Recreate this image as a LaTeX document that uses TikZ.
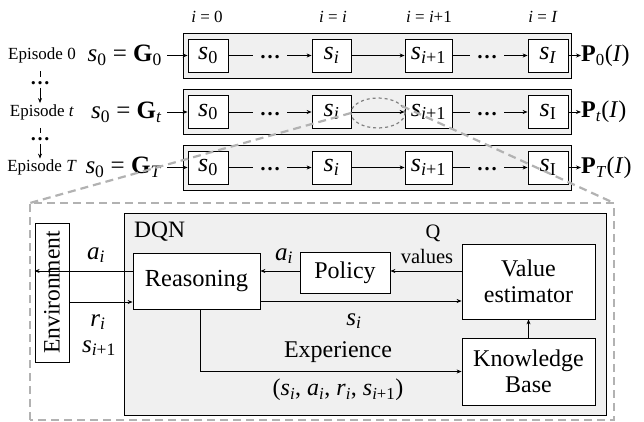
\documentclass[tikz,border=0pt]{standalone}
\usepackage{fontspec}
\setmainfont{Liberation Serif}
\usetikzlibrary{arrows.meta,calc,shapes.geometric}

% italic symbol with a subscript, set in the text font
\newcommand{\isub}[2]{\textit{#1}\textsubscript{#2}}
\newcommand{\fs}[1]{\fontsize{#1}{#1}\selectfont}

\begin{document}
\begin{tikzpicture}[x=1pt,y=-1pt,
  strip/.style={draw, fill=gray!12, line width=0.8pt},
  state/.style={draw, fill=white, line width=0.8pt, minimum height=33pt, inner sep=0pt, font=\fs{26}},
  dotsnode/.style={inner sep=0pt, minimum width=34pt, font=\fs{21}\bfseries},
  arr/.style={-{Stealth[length=5pt,width=4pt]}, line width=0.8pt},
  plain/.style={line width=0.8pt},
  eplabel/.style={inner sep=0pt, font=\fs{17}},
  toplabel/.style={inner sep=0pt, font=\fs{17}},
  panelbox/.style={draw, fill=white, line width=0.8pt, align=center, inner sep=0pt, font=\fs{24}},
  zoomline/.style={draw=gray!60, line width=2.2pt, dash pattern=on 8pt off 5pt},
  lab/.style={inner sep=0pt, font=\fs{25}}
]
\useasboundingbox (0,0) rectangle (644,422);

% index labels above the rows
\node[toplabel] (t0) at (207,17) {\textit{i} = 0};
\node[toplabel] (t1) at (333,17) {\textit{i} = \textit{i}};
\node[toplabel] (t2) at (429,17) {\textit{i} = \textit{i}+1};
\node[toplabel] (t3) at (543,17) {\textit{i} = \textit{I}};

% one row per episode: #1 row name, #2 centre y, #3 episode symbol,
% #4 subscript of the last state, #5 subscript of G and P
\newcommand{\episoderow}[5]{%
  \node[strip, minimum width=388pt, minimum height=45pt, inner sep=0pt] (#1strip) at (377,#2) {};
  \node[state, minimum width=40pt] (#1s0) at (208,#2) {\isub{s}{0}};
  \node[state, minimum width=39pt] (#1si) at (331.5,#2) {\isub{s}{\textit{i}}};
  \node[state, minimum width=47pt] (#1sj) at (428.5,#2) {\isub{s}{\textit{i}+1}};
  \node[state, minimum width=40pt] (#1sI) at (548,#2) {\isub{s}{#4}};
  \node[dotsnode] (#1d1) at (270,#2+2) {…};
  \node[dotsnode] (#1d2) at (487,#2+2) {…};
  \draw[plain] (#1s0.east) -- (#1s0.east -| #1d1.west);
  \draw[arr] (#1si.west -| #1d1.east) -- (#1si.west);
  \draw[arr] (#1si) -- (#1sj);
  \draw[plain] (#1sj.east) -- (#1sj.east -| #1d2.west);
  \draw[arr] (#1sI.west -| #1d2.east) -- (#1sI.west);
  \node[inner sep=0pt, anchor=east, font=\fs{25}] (#1g) at (162,#2) {\isub{s}{0} = \textbf{G}\textsubscript{\textit{#5}}};
  \draw[arr] (#1g.east) ++(5,0) coordinate (#1ga) -- (#1s0.west);
  \node[inner sep=0pt, anchor=west, font=\fs{24}] (#1p) at (581,#2) {\textbf{P}\textsubscript{\textit{#5}}(\textit{I})};
  \draw[arr] (#1sI.east) -- (#1p.west);
  \node[eplabel] (#1ep) at (42,#2) {Episode #3};
}

\episoderow{ra}{55.5}{0}{\textit{I}}{\textup{0}}
\episoderow{rb}{112}{\textit{t}}{I}{t}
\episoderow{rc}{167.5}{\textit{T}}{I}{T}

% episode sequence on the left
\node[inner sep=0pt, font=\fs{20}\bfseries] (e1) at (40,83) {…};
\node[inner sep=0pt, font=\fs{20}\bfseries] (e2) at (40,139) {…};
\draw[plain] ([yshift=-8pt]raep.south -| e1) -- ([yshift=4pt]e1.north);
\draw[arr] ([yshift=-3pt]e1.south) -- ([yshift=1pt]rbep.north -| e1);
\draw[plain] ([yshift=-8pt]rbep.south -| e2) -- ([yshift=4pt]e2.north);
\draw[arr] ([yshift=-3pt]e2.south) -- ([yshift=1pt]rcep.north -| e2);

% detail panel
\node[draw, fill=gray!12, line width=0.8pt, minimum width=482pt, minimum height=202pt, inner sep=0pt] (dqn) at (365,314) {};
\node[inner sep=0pt, font=\fs{23.5}, anchor=west] (dqnlab) at (134,232) {DQN};

\node[panelbox, minimum width=139pt, minimum height=34pt, rotate=90, font=\fs{23.5}] (env) at (52,292.5) {Environment};
\node[panelbox, minimum width=127pt, minimum height=56pt, font=\fs{24.5}] (reason) at (196.5,281) {Reasoning};
\node[panelbox, minimum width=90pt, minimum height=41pt] (policy) at (345,272.5) {Policy};
\node[panelbox, minimum width=133pt, minimum height=75pt] (value) at (528.5,281.5) {Value\\[2pt]estimator};
\node[panelbox, minimum width=133pt, minimum height=67pt] (kb) at (528.5,371.5) {Knowledge\\[2pt]Base};

\draw[arr] ([yshift=10pt]reason.west) -- ([yshift=10pt]reason.west -| env.north);
\draw[arr] ([yshift=-21pt]reason.west -| env.south) -- ([yshift=-21pt]reason.west);
\draw[arr] ([yshift=1.5pt]policy.west) -- ([yshift=1.5pt]policy.west -| reason.east);
\draw[arr] ([yshift=10.5pt]value.west) -- ([yshift=10.5pt]value.west -| policy.east);
\draw[arr] ([yshift=-20pt]reason.east) -- ([yshift=-20pt]reason.east -| value.west);
\draw[arr] ([xshift=3.5pt]reason.south) |- (kb.west);
\draw[arr] (kb.north) -- (value.south);

\node[lab] (la1) at (96,255) {\isub{a}{\textit{i}}};
\node[lab] (lr) at (98,322) {\isub{r}{\textit{i}}};
\node[lab] (ls1) at (99,348) {\isub{s}{\textit{i}+1}};
\node[lab] (la2) at (284,256) {\isub{a}{\textit{i}}};
\node[lab, font=\fs{20.5}] (lq) at (433,233) {Q};
\node[lab, font=\fs{20.5}] (lv) at (427,256) {values};
\node[lab] (lsi) at (354,321) {\isub{s}{\textit{i}}};
\node[lab, font=\fs{24}] (lexp) at (338,352) {Experience};
\node[lab, font=\fs{24}] (ltup) at (338,390) {(\isub{s}{\textit{i}}, \isub{a}{\textit{i}}, \isub{r}{\textit{i}}, \isub{s}{\textit{i}+1})};

% magnified region marker and its guide lines
\node[draw=gray, dashed, line width=1.2pt, ellipse, minimum width=54pt, minimum height=30pt, inner sep=0pt] (focus) at (378,113) {};
\coordinate (fl) at (351,113);
\coordinate (fr) at (402,106);
\coordinate (pl) at (30,203);
\coordinate (pr) at (614,203);
\coordinate (pbl) at (30,420);
\coordinate (pbr) at (614,420);
\draw[zoomline] (fl) -- (pl);
\draw[zoomline] (fr) -- (pr);
\draw[zoomline] (pbl) -- (pl) -- (pr) -- (pbr) -- cycle;
\end{tikzpicture}
\end{document}
